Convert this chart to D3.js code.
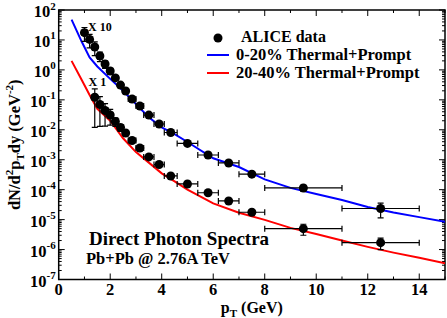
<!DOCTYPE html>
<html>
<head>
<meta charset="utf-8">
<script src="https://cdn.jsdelivr.net/npm/d3@7"></script>
<style>
  body { margin: 0; background: #fff; }
  text { font-family: "Liberation Serif", "Times New Roman", serif; font-weight: bold; fill: #000; }
</style>
</head>
<body>
<div id="chart"></div>
<script>
// pT bin edges (GeV) shared by both centralities
var binEdges = [0.9, 1.1, 1.3, 1.5, 1.7, 1.9, 2.1, 2.3, 2.5, 2.7, 3.0, 3.3, 3.7, 4.1, 4.6, 5.4, 6.2, 7.0, 8.0, 11.0, 14.0];

// ALICE 0-20% (scaled x10)
var ptUpper  = [1.0, 1.2, 1.4, 1.6, 1.8, 2.0, 2.2, 2.4, 2.6, 2.85, 3.15, 3.5, 3.9, 4.35, 5.0, 5.8, 6.6, 7.5, 9.5, 12.5];
var yUpper   = [17.5, 10.4, 5.8, 2.9, 1.57, 0.92, 0.54, 0.31, 0.197, 0.107, 0.062, 0.031, 0.0156, 0.0081, 0.0035, 0.00144, 7.8e-4, 3.3e-4, 1.14e-4, 2.35e-5];
var errUpper = [8.5, 5.0, 2.8, 1.0, 0.45, 0.2, 0.09, 0.04, 0.022, 0.011, 0.006, 0.003, 0.0015, 0.0008, 0.0004, 0.00018, 1.0e-4, 5e-5, 2.5e-5, 1.2e-5];

// ALICE 20-40% (x1)
var ptLower  = [1.4, 1.6, 1.8, 2.0, 2.2, 2.4, 2.6, 2.85, 3.15, 3.5, 3.9, 4.35, 5.0, 5.8, 6.6, 7.5, 9.5, 12.5];
var yLower   = [0.122, 0.070, 0.0442, 0.0312, 0.0189, 0.0119, 0.0078, 0.0044, 0.00247, 0.00124, 6.9e-4, 2.87e-4, 1.55e-4, 7.9e-5, 4.2e-5, 1.76e-5, 5.0e-6, 1.7e-6];
var errLower = [0.11, 0.057, 0.031, 0.017, 0.006, 0.003, 0.0012, 0.0006, 0.0003, 0.00015, 8e-5, 4e-5, 2e-5, 1e-5, 6e-6, 3e-6, 2.0e-6, 0.7e-6];

// Thermal+Prompt calculations
var ptCurve   = [0.5, 0.9, 1.2, 1.5, 2.0, 2.5, 3.0, 3.5, 4.0, 4.5, 5.0, 6.0, 7.0, 8.0, 9.0, 10, 11, 12, 13, 14, 15];
var yCurve020 = [48, 8.5, 2.6, 1.3, 0.5, 0.2, 0.073, 0.026, 0.0121, 0.0072, 0.0039, 0.00112, 5.7e-4, 2.2e-4, 1.15e-4, 7.2e-5, 4.5e-5, 2.65e-5, 1.73e-5, 1.21e-5, 8.5e-6];
var yCurve2040 = [2.0, 0.45, 0.145, 0.05, 0.02, 0.0052, 0.0018, 8.0e-4, 3.5e-4, 1.9e-4, 1.0e-4, 3.5e-5, 1.7e-5, 9.8e-6, 5.3e-6, 3.3e-6, 2.0e-6, 1.23e-6, 7.9e-7, 5.3e-7, 3.5e-7];

var xMajor = [0, 2, 4, 6, 8, 10, 12, 14];
var xMinor = [1, 3, 5, 7, 9, 11, 13, 15];

var width = 447, height = 318;
var margins = {"top": 10, "bottom": 38.5, "left": 58.7, "right": 2};

var x = d3.scaleLinear().domain([0, 15]).range([margins.left, width - margins.right]);
var y = d3.scaleLog().domain([1e-7, 1e2]).range([height - margins.bottom, margins.top]);

var svg = d3.select("#chart")
  .append("svg")
    .attr("width", width)
    .attr("height", height);

var x0 = x.range()[0], x1 = x.range()[1], yb = y.range()[0], yt = y.range()[1];

svg.append("defs").append("clipPath").attr("id", "clip")
  .append("rect").attr("x", x0).attr("y", yt).attr("width", x1 - x0).attr("height", yb - yt);

// Ticks (all inward)
var tickG = svg.append("g").attr("stroke", "#000").attr("stroke-width", 1);
function xTicks(vals, len) {
  vals.forEach(function(v) {
    tickG.append("line").attr("x1", x(v)).attr("x2", x(v)).attr("y1", yb).attr("y2", yb - len);
    tickG.append("line").attr("x1", x(v)).attr("x2", x(v)).attr("y1", yt).attr("y2", yt + len);
  });
}
xTicks(xMajor, 6);
xTicks(xMinor, 3);

y.ticks().forEach(function(v) {
  var major = Math.abs(Math.log10(v) - Math.round(Math.log10(v))) < 1e-9;
  var len = major ? 6 : 3;
  tickG.append("line").attr("x1", x0).attr("x2", x0 + len).attr("y1", y(v)).attr("y2", y(v));
  tickG.append("line").attr("x1", x1).attr("x2", x1 - len).attr("y1", y(v)).attr("y2", y(v));
});

// Frame
svg.append("rect")
  .attr("x", x0).attr("y", yt).attr("width", x1 - x0).attr("height", yb - yt)
  .attr("fill", "none").attr("stroke", "#000").attr("stroke-width", 1.5);

// X tick labels
svg.append("g").selectAll("text")
  .data(xMajor).enter()
  .append("text")
    .attr("x", function(d) { return x(d); })
    .attr("y", yb + 15)
    .attr("text-anchor", "middle")
    .attr("font-size", 16.5)
    .text(function(d) { return d; });

// Y tick labels 10^n
var decades = d3.range(-7, 3);
var yl = svg.append("g").selectAll("text")
  .data(decades).enter()
  .append("text")
    .attr("x", x0 - 3)
    .attr("y", function(d) { return y(Math.pow(10, d)) + 7; })
    .attr("text-anchor", "end")
    .attr("font-size", 16.5);
yl.append("tspan").text("10");
yl.append("tspan").attr("font-size", 11).attr("dy", -7.5).text(function(d) { return d; });

// Axis titles
var xt = svg.append("text")
  .attr("x", (x0 + x1) / 2).attr("y", 313)
  .attr("text-anchor", "middle").attr("font-size", 16);
xt.append("tspan").text("p");
xt.append("tspan").attr("font-size", 11).attr("dy", 4).text("T");
xt.append("tspan").attr("dy", -4).text(" (GeV)");

var ytl = svg.append("text")
  .attr("transform", "translate(20," + ((yb + yt) / 2) + ") rotate(-90)")
  .attr("text-anchor", "middle").attr("font-size", 16.5);
ytl.append("tspan").text("dN/d");
ytl.append("tspan").attr("font-size", 11).attr("dy", -7).text("2");
ytl.append("tspan").attr("dy", 7).text("p");
ytl.append("tspan").attr("font-size", 11).attr("dy", 4).text("T");
ytl.append("tspan").attr("dy", -4).text("dy (GeV");
ytl.append("tspan").attr("font-size", 11).attr("dy", -7).text("-2");
ytl.append("tspan").attr("dy", 7).text(")");

// Theory curves
var plot = svg.append("g").attr("clip-path", "url(#clip)");
var line = d3.line()
  .x(function(d) { return x(d[0]); })
  .y(function(d) { return y(d[1]); });

plot.append("path")
  .datum(d3.zip(ptCurve, yCurve020))
  .attr("d", line).attr("fill", "none").attr("stroke", "#0000ff").attr("stroke-width", 2);
plot.append("path")
  .datum(d3.zip(ptCurve, yCurve2040))
  .attr("d", line).attr("fill", "none").attr("stroke", "#ff0000").attr("stroke-width", 2);

// Data points with error bars
function drawSeries(pts, vals, errs) {
  var rows = pts.map(function(p, i) {
    var k = binEdges.findIndex(function(e, j) { return p > e && p < binEdges[j + 1]; });
    return {pt: p, v: vals[i], e: errs[i], lo: binEdges[k], hi: binEdges[k + 1]};
  });
  var g = plot.append("g").attr("stroke", "#000").attr("stroke-width", 1.2);
  rows.forEach(function(d) {
    var cy = y(d.v), cx = x(d.pt);
    var top = y(d.v + d.e), bot = y(Math.max(d.v - d.e, 1e-9));
    g.append("line").attr("x1", cx).attr("x2", cx).attr("y1", top).attr("y2", bot);
    g.append("line").attr("x1", cx - 3).attr("x2", cx + 3).attr("y1", top).attr("y2", top);
    g.append("line").attr("x1", cx - 3).attr("x2", cx + 3).attr("y1", bot).attr("y2", bot);
    g.append("line").attr("x1", x(d.lo)).attr("x2", x(d.hi)).attr("y1", cy).attr("y2", cy);
    g.append("line").attr("x1", x(d.lo)).attr("x2", x(d.lo)).attr("y1", cy - 3).attr("y2", cy + 3);
    g.append("line").attr("x1", x(d.hi)).attr("x2", x(d.hi)).attr("y1", cy - 3).attr("y2", cy + 3);
  });
  plot.append("g").selectAll("circle")
    .data(rows).enter()
    .append("circle")
      .attr("cx", function(d) { return x(d.pt); })
      .attr("cy", function(d) { return y(d.v); })
      .attr("r", 4.5)
      .attr("fill", "#000");
}
drawSeries(ptUpper, yUpper, errUpper);
drawSeries(ptLower, yLower, errLower);

// Scale labels
svg.append("text").attr("x", 88).attr("y", 31).attr("font-size", 12).text("X 10");
svg.append("text").attr("x", 88.5).attr("y", 86).attr("font-size", 12).text("X 1");

// Legend
var legend = svg.append("g").attr("class", "legend");
legend.append("circle").attr("cx", 218).attr("cy", 38).attr("r", 4.5).attr("fill", "#000");
legend.append("text").attr("x", 241).attr("y", 42).attr("font-size", 16).text("ALICE data");
legend.append("line").attr("x1", 207).attr("x2", 229).attr("y1", 55).attr("y2", 55)
  .attr("stroke", "#0000ff").attr("stroke-width", 2);
legend.append("text").attr("x", 236).attr("y", 60).attr("font-size", 16.5).text("0-20% Thermal+Prompt");
legend.append("line").attr("x1", 207).attr("x2", 229).attr("y1", 73).attr("y2", 73)
  .attr("stroke", "#ff0000").attr("stroke-width", 2);
legend.append("text").attr("x", 236).attr("y", 78).attr("font-size", 16.5).text("20-40% Thermal+Prompt");

// Annotation
svg.append("text").attr("x", 89).attr("y", 245).attr("font-size", 19).text("Direct Photon Spectra");
svg.append("text").attr("x", 86).attr("y", 264).attr("font-size", 16.5).text("Pb+Pb @ 2.76A TeV");
</script>
</body>
</html>
